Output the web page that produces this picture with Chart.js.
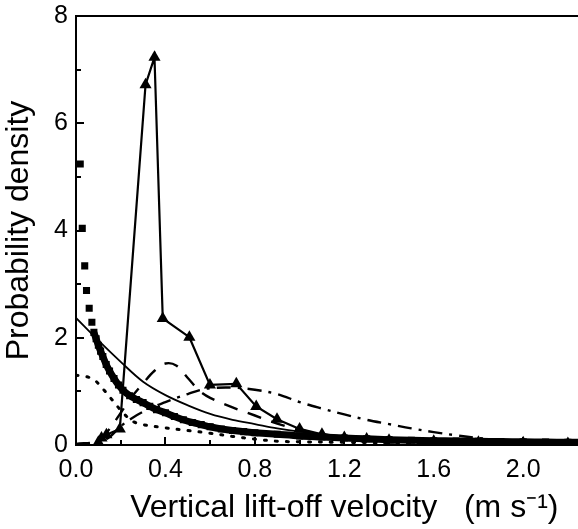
<!DOCTYPE html>
<html>
<head>
<meta charset="utf-8">
<script src="https://cdn.jsdelivr.net/npm/chart.js@4/dist/chart.umd.min.js"></script>
<style>
    html, body { margin: 0; padding: 0; background: #fff; overflow: hidden; }
    #wrap { width: 640px; height: 529px; }
</style>
</head>
<body>
<div id="wrap"><canvas id="velocityChart"></canvas></div>
<script>
// measured squares (dense band)
const squareX = [0.019, 0.028, 0.039, 0.047, 0.059, 0.071, 0.08, 0.09, 0.1, 0.11, 0.12, 0.135, 0.15, 0.17, 0.19, 0.21, 0.24, 0.27, 0.3, 0.33, 0.36, 0.4, 0.44, 0.48, 0.52, 0.56, 0.6, 0.65, 0.7, 0.75, 0.8, 0.9, 1.0, 1.1, 1.2, 1.3, 1.4, 1.5, 1.6, 1.7, 1.8, 1.9, 2.0, 2.1, 2.2, 2.3, 2.4];
const squareY = [5.24, 4.04, 3.34, 2.88, 2.55, 2.29, 2.1, 1.98, 1.86, 1.75, 1.65, 1.5, 1.38, 1.24, 1.12, 1.02, 0.92, 0.85, 0.79, 0.72, 0.66, 0.6, 0.53, 0.47, 0.42, 0.38, 0.34, 0.3, 0.27, 0.25, 0.23, 0.2, 0.17, 0.15, 0.13, 0.115, 0.1, 0.09, 0.08, 0.075, 0.07, 0.065, 0.06, 0.055, 0.05, 0.05, 0.05];

// triangles joined by a solid line
const triX = [0.1, 0.114, 0.136, 0.196, 0.311, 0.351, 0.388, 0.507, 0.599, 0.717, 0.806, 0.899, 1.0, 1.1, 1.2, 1.3, 1.4, 1.6, 1.8, 2.0, 2.2, 2.4];
const triY = [0.05, 0.13, 0.19, 0.3, 6.72, 7.23, 2.36, 2.01, 1.12, 1.14, 0.72, 0.48, 0.3, 0.2, 0.14, 0.11, 0.09, 0.07, 0.05, 0.04, 0.03, 0.03];

// fitted curves
const solidX = [0, 0.1, 0.2, 0.3, 0.4, 0.5, 0.6, 0.7, 0.8, 0.9, 1.0, 1.2, 1.4, 1.6, 1.8, 2.0, 2.2, 2.4];
const solidY = [2.37, 1.95, 1.55, 1.18, 0.93, 0.74, 0.58, 0.47, 0.39, 0.31, 0.25, 0.16, 0.11, 0.08, 0.06, 0.05, 0.04, 0.03];

const dashX = [0, 0.1, 0.15, 0.2, 0.25, 0.3, 0.35, 0.4, 0.45, 0.5, 0.55, 0.6, 0.7, 0.8, 0.9, 1.0, 1.2, 1.4, 1.6, 1.8, 2.0, 2.2, 2.4];
const dashY = [0.02, 0.08, 0.3, 0.6, 0.9, 1.15, 1.38, 1.52, 1.48, 1.25, 1.02, 0.88, 0.7, 0.55, 0.4, 0.28, 0.15, 0.09, 0.06, 0.04, 0.03, 0.02, 0.02];

const dashDotX = [0, 0.1, 0.15, 0.2, 0.25, 0.3, 0.35, 0.4, 0.45, 0.5, 0.55, 0.6, 0.7, 0.8, 0.9, 1.0, 1.1, 1.2, 1.3, 1.4, 1.5, 1.6, 1.7, 1.8, 1.9, 2.0, 2.1, 2.2, 2.4];
const dashDotY = [0, 0.05, 0.15, 0.35, 0.5, 0.62, 0.72, 0.8, 0.88, 0.95, 1.02, 1.06, 1.07, 1.03, 0.95, 0.8, 0.68, 0.57, 0.47, 0.39, 0.31, 0.24, 0.18, 0.13, 0.09, 0.07, 0.05, 0.03, 0.02];

const dotX = [0, 0.04, 0.08, 0.12, 0.16, 0.2, 0.25, 0.3, 0.4, 0.5, 0.6, 0.7, 0.8, 0.9, 1.0, 1.2, 1.4, 1.6, 1.8, 2.0, 2.4];
const dotY = [1.3, 1.28, 1.22, 1.05, 0.85, 0.65, 0.45, 0.38, 0.32, 0.27, 0.22, 0.16, 0.11, 0.07, 0.06, 0.05, 0.04, 0.02, 0.01, 0.01, 0.01];

const xTicks = [0, 0.4, 0.8, 1.2, 1.6, 2.0, 2.4];
const yTicks = [0, 2, 4, 6, 8];

function toPoints(xs, ys) {
    return xs.map((x, i) => ({ x: x, y: ys[i] }));
}

// inward tick marks and the top frame line
const frameTicks = {
    id: 'frameTicks',
    afterDraw(chart) {
        const ctx = chart.ctx;
        const area = chart.chartArea;
        const xs = chart.scales.x;
        const ys = chart.scales.y;
        ctx.save();
        ctx.strokeStyle = '#000';
        ctx.lineWidth = 2;
        ctx.beginPath();
        ctx.moveTo(area.left - 1, area.top);
        ctx.lineTo(area.right, area.top);
        for (let v = 0; v <= 2.4001; v += 0.2) {
            const px = Math.round(xs.getPixelForValue(v));
            const major = Math.abs(v / 0.4 - Math.round(v / 0.4)) < 0.01;
            ctx.moveTo(px, area.bottom);
            ctx.lineTo(px, area.bottom - (major ? 8 : 5));
        }
        for (let v = 0; v <= 8; v += 1) {
            const py = Math.round(ys.getPixelForValue(v));
            ctx.moveTo(area.left, py);
            ctx.lineTo(area.left + (v % 2 === 0 ? 8 : 5), py);
        }
        ctx.stroke();
        ctx.restore();
    }
};

const lineBase = {
    showLine: true,
    fill: false,
    borderColor: '#000',
    backgroundColor: '#000',
    pointRadius: 0,
    tension: 0.35
};

const FONT = 'Liberation Sans, Arial, sans-serif';

new Chart(document.getElementById('velocityChart'), {
    type: 'scatter',
    data: {
        datasets: [
            Object.assign({}, lineBase, {
                label: 'dotted',
                data: toPoints(dotX, dotY),
                borderWidth: 3,
                borderDash: [2, 9],
                borderCapStyle: 'round'
            }),
            Object.assign({}, lineBase, {
                label: 'dash-dot',
                data: toPoints(dashDotX, dashDotY),
                borderWidth: 2.4,
                borderDash: [14, 7, 3, 7]
            }),
            Object.assign({}, lineBase, {
                label: 'dashed',
                data: toPoints(dashX, dashY),
                borderWidth: 2.4,
                borderDash: [14, 11]
            }),
            Object.assign({}, lineBase, {
                label: 'solid',
                data: toPoints(solidX, solidY),
                borderWidth: 1.8
            }),
            {
                label: 'squares',
                data: toPoints(squareX, squareY),
                showLine: true,
                borderColor: '#000',
                backgroundColor: '#000',
                borderWidth: 7,
                tension: 0.3,
                segment: {
                    borderColor: c => c.p0.parsed.x < 0.075 ? 'rgba(0,0,0,0)' : '#000'
                },
                pointStyle: 'rect',
                pointRadius: 5,
                pointBorderWidth: 0
            },
            {
                label: 'triangles',
                data: toPoints(triX, triY),
                showLine: true,
                borderColor: '#000',
                backgroundColor: '#000',
                borderWidth: 2.2,
                tension: 0,
                pointStyle: 'triangle',
                pointRadius: 7,
                pointBorderWidth: 0
            }
        ]
    },
    options: {
        responsive: true,
        maintainAspectRatio: false,
        animation: false,
        layout: { padding: { top: 16, right: 24, left: 0, bottom: 0 } },
        plugins: {
            legend: { display: false },
            tooltip: { enabled: false }
        },
        scales: {
            x: {
                type: 'linear',
                min: 0,
                max: 2.4,
                afterBuildTicks: axis => { axis.ticks = xTicks.map(v => ({ value: v })); },
                afterFit: axis => { axis.height = 84; },
                grid: { display: false, drawTicks: false },
                border: { display: true, color: '#000', width: 2 },
                ticks: {
                    color: '#000',
                    padding: 10,
                    font: { family: FONT, size: 25 },
                    callback: v => Number(v).toFixed(1)
                },
                title: {
                    display: true,
                    text: 'Vertical lift-off velocity   (m s\u207B\u00B9)',
                    color: '#000',
                    font: { family: FONT, size: 32 },
                    padding: { top: 0, bottom: 2 }
                }
            },
            y: {
                type: 'linear',
                min: 0,
                max: 8,
                afterBuildTicks: axis => { axis.ticks = yTicks.map(v => ({ value: v })); },
                afterFit: axis => {
                    axis.width = 76;
                    axis.paddingTop = 0;
                    axis.paddingBottom = 0;
                },
                grid: { display: false, drawTicks: false },
                border: { display: true, color: '#000', width: 2 },
                ticks: {
                    color: '#000',
                    padding: 8,
                    font: { family: FONT, size: 25 }
                },
                title: {
                    display: true,
                    text: 'Probability density',
                    color: '#000',
                    font: { family: FONT, size: 32 },
                    padding: { top: 0, bottom: 0 }
                }
            }
        }
    },
    plugins: [frameTicks]
});
</script>
</body>
</html>
